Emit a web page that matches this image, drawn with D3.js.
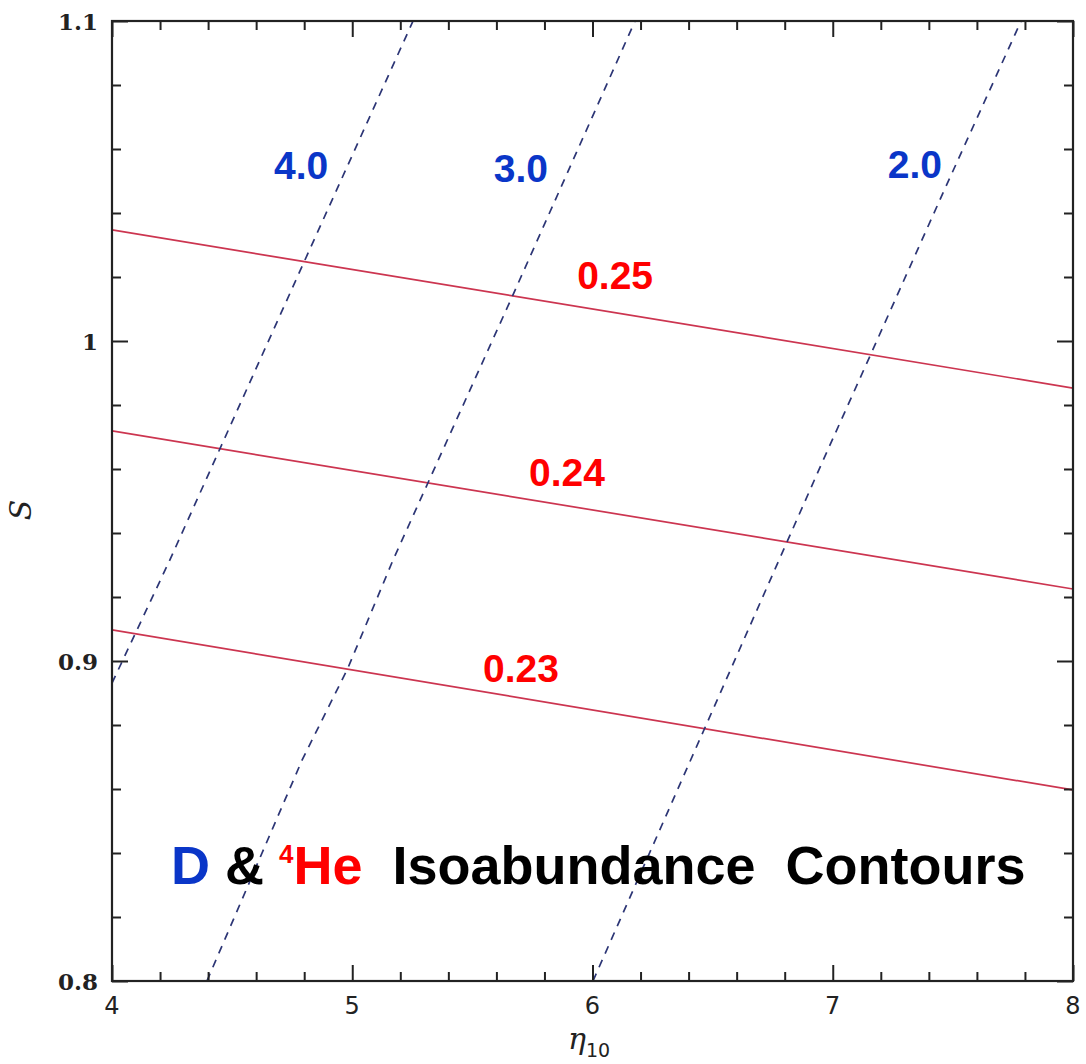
<!DOCTYPE html>
<html>
<head>
<meta charset="utf-8">
<script src="https://cdn.jsdelivr.net/npm/d3@7"></script>
<style>
  html, body { margin: 0; padding: 0; background: #fff; }
  svg { display: block; }
</style>
</head>
<body>
<svg id="chart" width="1086" height="1064"></svg>
<script>
// Axis ranges and tick values
const etaDomain = [4, 8];
const sDomain = [0.8, 1.1];
const etaMajorTicks = [4, 5, 6, 7, 8];
const etaTickLabels = ["4", "5", "6", "7", "8"];
const sMajorTicks = [0.8, 0.9, 1.0, 1.1];
const sTickLabels = ["0.8", "0.9", "1", "1.1"];

// 4He mass fraction contours (eta10, S)
const ypLabels = ["0.23", "0.24", "0.25"];
const yp023 = [[4, 0.9097], [8, 0.8597]];
const yp024 = [[4, 0.9719], [8, 0.9225]];
const yp025 = [[4, 1.0347], [8, 0.9853]];

// D/H (x 10^5) contours (eta10, S)
const dhLabels = ["4.0", "3.0", "2.0"];
const dh40 = [[4.000, 0.8931], [4.241, 0.9316], [4.803, 1.0253], [5.253, 1.1]];
const dh30 = [[4.395, 0.8], [4.791, 0.869], [4.982, 0.8978], [5.170, 0.9316], [5.669, 1.0144], [6.177, 1.1]];
const dh20 = [[6.002, 0.8], [6.955, 0.9619], [7.155, 0.9953], [7.459, 1.0463], [7.784, 1.1]];

const svg = d3.select("#chart");
const L = 112, R = 1073, T = 21, B = 981;

const x = d3.scaleLinear().domain(etaDomain).range([L, R]);
const y = d3.scaleLinear().domain(sDomain).range([B, T]);

const etaMinor = d3.range(4, 8.0001, 0.2).map(v => +v.toFixed(2)).filter(v => !etaMajorTicks.includes(v));
const sMinor = d3.range(0.8, 1.1001, 0.02).map(v => +v.toFixed(2)).filter(v => !sMajorTicks.some(m => Math.abs(m - v) < 1e-6));

const frameColor = "#222";
const MAJ = 16, MIN = 9;

// Clip for contour curves
svg.append("defs").append("clipPath").attr("id", "plotClip")
  .append("rect").attr("x", L).attr("y", T).attr("width", R - L).attr("height", B - T);

const line = d3.line().x(d => x(d[0])).y(d => y(d[1]));
const curves = svg.append("g").attr("clip-path", "url(#plotClip)");

[yp023, yp024, yp025].forEach(pts => {
  curves.append("path").attr("d", line(pts))
    .attr("fill", "none").attr("stroke", "#cc3550").attr("stroke-width", 1.7);
});
[dh40, dh30, dh20].forEach(pts => {
  curves.append("path").attr("d", line(pts))
    .attr("fill", "none").attr("stroke", "#2c3575").attr("stroke-width", 1.7)
    .attr("stroke-dasharray", "8,7");
});

// Inward ticks on all four sides
function tickGroup(axisFn, scale, values, size, transform) {
  const g = svg.append("g").attr("transform", transform)
    .call(axisFn(scale).tickValues(values).tickSizeInner(-size).tickSizeOuter(0).tickFormat(""));
  g.select(".domain").remove();
  g.selectAll(".tick line").attr("stroke", frameColor).attr("stroke-width", 2);
  return g;
}
tickGroup(d3.axisBottom, x, etaMajorTicks, MAJ, `translate(0,${B})`);
tickGroup(d3.axisBottom, x, etaMinor, MIN, `translate(0,${B})`);
tickGroup(d3.axisTop, x, etaMajorTicks, MAJ, `translate(0,${T})`);
tickGroup(d3.axisTop, x, etaMinor, MIN, `translate(0,${T})`);
tickGroup(d3.axisLeft, y, sMajorTicks, MAJ, `translate(${L},0)`);
tickGroup(d3.axisLeft, y, sMinor, MIN, `translate(${L},0)`);
tickGroup(d3.axisRight, y, sMajorTicks, MAJ, `translate(${R},0)`);
tickGroup(d3.axisRight, y, sMinor, MIN, `translate(${R},0)`);

// Frame
svg.append("rect").attr("x", L).attr("y", T).attr("width", R - L).attr("height", B - T)
  .attr("fill", "none").attr("stroke", frameColor).attr("stroke-width", 2.2);

// Tick labels
const tickFont = "'DejaVu Sans', sans-serif";
svg.append("g").selectAll("text").data(etaMajorTicks).join("text")
  .attr("x", d => x(d)).attr("y", 1014)
  .attr("text-anchor", "middle").attr("font-family", tickFont).attr("font-size", 24)
  .attr("fill", "#222").text((d, i) => etaTickLabels[i]);
svg.append("g").selectAll("text").data(sMajorTicks).join("text")
  .attr("x", 98).attr("y", d => y(d) + 9)
  .attr("text-anchor", "end").attr("font-family", "'DejaVu Serif', serif").attr("font-size", 23)
  .attr("font-weight", "bold").attr("fill", "#222").text((d, i) => sTickLabels[i]);

// Axis titles
const xt = svg.append("text").attr("x", 568).attr("y", 1049)
  .attr("font-family", "'DejaVu Serif', serif").attr("fill", "#222");
xt.append("tspan").attr("font-style", "italic").attr("font-size", 30).text("η");
xt.append("tspan").attr("font-family", tickFont).attr("font-size", 19).attr("dy", 8).text("10");

svg.append("text").attr("transform", "translate(31,510) rotate(-90)")
  .attr("text-anchor", "middle").attr("font-family", "'DejaVu Serif', serif")
  .attr("font-style", "italic").attr("font-size", 30).attr("fill", "#222").text("S");

// Contour labels
const labelFont = "'Liberation Sans', Arial, sans-serif";
const dhLabelPos = [[4.787, 1.055], [5.702, 1.054], [7.342, 1.0553]];
const ypLabelPos = [[5.702, 0.8978], [5.894, 0.9591], [6.094, 1.0206]];
svg.append("g").selectAll("text").data(dhLabels).join("text")
  .attr("x", (d, i) => x(dhLabelPos[i][0])).attr("y", (d, i) => y(dhLabelPos[i][1]) + 14)
  .attr("text-anchor", "middle").attr("font-family", labelFont).attr("font-weight", "bold")
  .attr("font-size", 39).attr("fill", "#0a36c8").text(d => d);
svg.append("g").selectAll("text").data(ypLabels).join("text")
  .attr("x", (d, i) => x(ypLabelPos[i][0])).attr("y", (d, i) => y(ypLabelPos[i][1]) + 14)
  .attr("text-anchor", "middle").attr("font-family", labelFont).attr("font-weight", "bold")
  .attr("font-size", 39).attr("fill", "#ff0000").text(d => d);

// Title
const title = svg.append("text").attr("x", 171).attr("y", 884)
  .attr("font-family", labelFont).attr("font-weight", "bold").attr("font-size", 54)
  .attr("xml:space", "preserve").style("white-space", "pre");
title.append("tspan").attr("fill", "#0a36c8").text("D");
title.append("tspan").attr("fill", "#000").text(" & ");
title.append("tspan").attr("fill", "#ff0000").attr("font-size", 26).attr("dy", -21).text("4");
title.append("tspan").attr("fill", "#ff0000").attr("dy", 21).text("He");
title.append("tspan").attr("fill", "#000").text("  Isoabundance  Contours");
</script>
</body>
</html>
